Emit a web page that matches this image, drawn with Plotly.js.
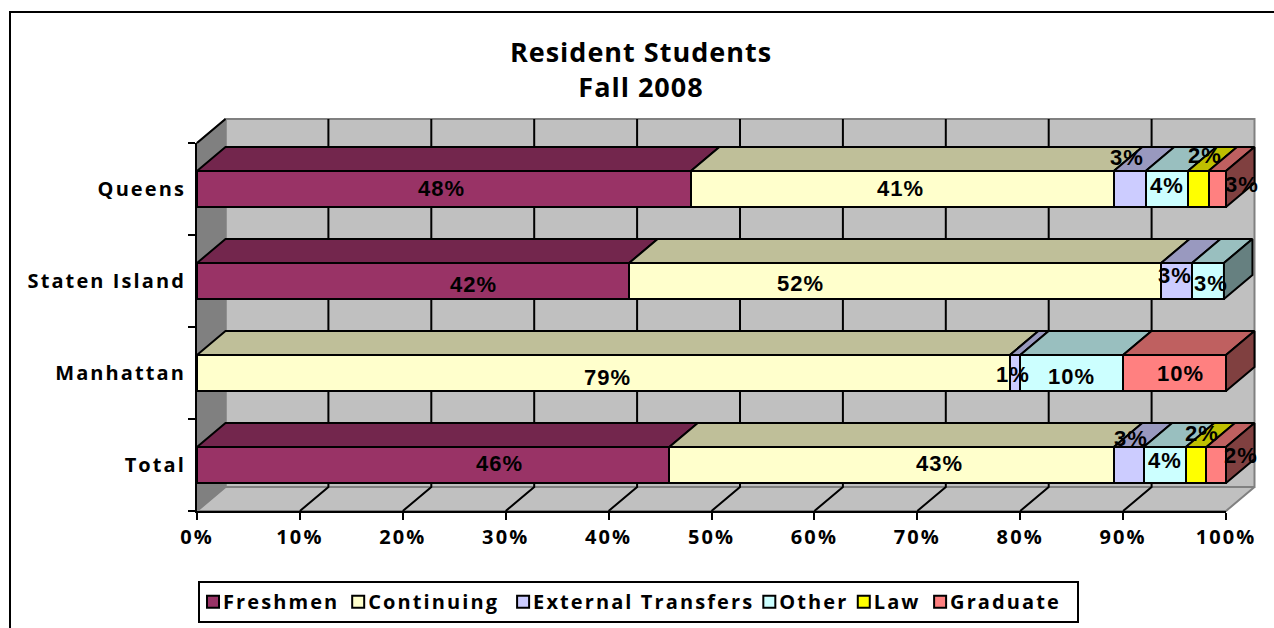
<!DOCTYPE html>
<html><head><meta charset="utf-8">
<script src="https://cdn.plot.ly/plotly-3.0.1.min.js"></script>
<style>
html,body{margin:0;padding:0;background:#fff;overflow:hidden}
.x3tick text,.y2tick text{letter-spacing:2.1px}
.gtitle{letter-spacing:1px}
.annotation-text{letter-spacing:1px}
.legendtext{letter-spacing:0.95px}
.ready .legendtext{letter-spacing:2.1px;font-size:20px !important;transform:translateX(-17px)}
.ready .legendsymbols{transform:translateX(-7px)}
.ready .legend .traces:nth-child(2){translate:-2px 0}
.ready .legend .traces:nth-child(3){translate:4px 0}
.ready .legend .traces:nth-child(4){translate:14px 0}
.ready .legend .traces:nth-child(5){translate:3px 0}
.ready .legend .traces:nth-child(6){translate:-7px 0}
</style></head><body>
<div id="chart" style="width:1274px;height:628px"></div>
<script>
// Data (percent of residents); bottom-to-top category order
const categories = ['Total', 'Manhattan', 'Staten Island', 'Queens'];
const seriesNames = ['Freshmen', 'Continuing', 'External Transfers', 'Other', 'Law', 'Graduate'];
const freshmen   = [45.9, 0, 42, 48];
const continuing = [43.2, 79, 51.7, 41.1];
const external   = [2.9, 1, 3, 3.1];
const other      = [4.1, 10, 3.1, 4.1];
const law        = [2, 0, 0, 2];
const graduate   = [1.9, 10, 0, 1.7];
const freshmenLabels   = ['46%', '', '42%', '48%'];
const continuingLabels = ['43%', '79%', '52%', '41%'];
const externalLabels   = ['3%', '1%', '3%', '3%'];
const otherLabels      = ['4%', '10%', '3%', '4%'];
const lawLabels        = ['2%', '', '', '2%'];
const graduateLabels   = ['2%', '10%', '', '3%'];
const percentTicks = [0,10,20,30,40,50,60,70,80,90,100];
const percentTickText = ['0%','10%','20%','30%','40%','50%','60%','70%','80%','90%','100%'];

// Styles
const frontColors = ['#993366', '#FFFFCC', '#CCCCFF', '#CCFFFF', '#FFFF00', '#FF8080'];
const topColors   = ['#73264D', '#BFBF99', '#9999BF', '#99BFBF', '#BFBF00', '#BF6060'];
const sideColors  = ['#4D1A33', '#808066', '#666680', '#668080', '#808000', '#804040'];
const uiFont = '"Open Sans", "Liberation Sans", sans-serif';
const valueFont = '"Liberation Sans", Arial, sans-serif';
// pixel nudges of the data labels from the segment centre, per series, per category
const labelShiftX = [[66,0,60,-2],[48,4,-95,-2],[2,-2,-2,-3],[0,0,3,0],[6,0,0,7],[25,6,0,25]];
const labelShiftY = [[2,0,-3,0],[2,-4,-2,0],[27,-1,6,31],[5,-3,-2,3],[32,0,0,33],[10,0,0,4]];

const values = [freshmen, continuing, external, other, law, graduate];
const labels = [freshmenLabels, continuingLabels, externalLabels, otherLabels, lawLabels, graduateLabels];

// Canvas geometry (px): front plane spans 197..1226 and 143..511
const W = 1274, H = 628, fx0 = 197, fx1 = 1226, fy0 = 143, fy1 = 511;
const sx = (fx1 - fx0) / 100, sy = 92;
const lo = -0.5, hi = 3.5;
const depthX = 28.5 / sx, depthY = 24 / sy, halfBar = 18 / sy;
// drawing area: a little larger than the 3-D box, so that nothing is clipped
const dx0 = 190, dx1 = 1262, dy0 = 112, dy1 = 516;
const drawRangeX = [(dx0 - fx0) / sx, (dx1 - fx0) / sx];
const drawRangeY = [lo + (fy1 - dy1) / sy, lo + (fy1 - dy0) / sy];
const domX = [dx0 / W, dx1 / W], domY = [1 - dy1 / H, 1 - dy0 / H];

const traces = [];
function poly(xs, ys, fill, line, wall) {
  traces.push({type:'scatter', mode:'lines', x:xs, y:ys, fill: fill ? 'toself' : 'none', fillcolor: fill || undefined,
    line:{color:line, width:2}, hoverinfo:'skip', showlegend:false,
    xaxis: wall ? 'x' : 'x2', yaxis: wall ? 'y' : 'y2'});
}
// walls and floor
poly([depthX,100+depthX,100+depthX,depthX,depthX],[lo+depthY,lo+depthY,hi+depthY,hi+depthY,lo+depthY],'#C0C0C0','#808080',true);
poly([0,depthX,depthX,0,0],[lo,lo+depthY,hi+depthY,hi,lo],'#808080','#808080',true);
poly([0,100,100+depthX,depthX,0],[lo,lo,lo+depthY,lo+depthY,lo],'#C0C0C0','#808080',true);
poly([0,depthX],[hi,hi+depthY],null,'#000000',true);
// gridlines
const gx = [], gy = [];
percentTicks.slice(1, -1).forEach(t => {
  gx.push(t, t+depthX, t+depthX, null);
  gy.push(lo, lo+depthY, hi+depthY, null);
});
poly(gx, gy, null, '#000000', true);

// front faces
seriesNames.forEach((name, s) => {
  traces.push({type:'bar', orientation:'h', name, y:categories.map((c,i)=>i),
    x:values[s].map(v => v > 0 ? v : null), xaxis:'x2', yaxis:'y2',
    marker:{color:frontColors[s], line:{color:'#000', width:2}}, hoverinfo:'skip'});
});
// top and side faces, built from the same values
const annotations = [];
const cum = categories.map(() => 0);
const last = categories.map((c,i) => { let k = 0; values.forEach((v,s)=>{ if (v[i] > 0) k = s; }); return k; });
seriesNames.forEach((name, s) => {
  const tx = [], ty = [], ex = [], ey = [];
  categories.forEach((c, i) => {
    const v = values[s][i], a = cum[i], b = a + v, up = i + halfBar, dn = i - halfBar;
    if (v > 0) {
      tx.push(a, b, b+depthX, a+depthX, a, null);
      ty.push(up, up, up+depthY, up+depthY, up, null);
      if (last[i] === s) {
        ex.push(b, b+depthX, b+depthX, b, b, null);
        ey.push(dn, dn+depthY, up+depthY, up, dn, null);
      }
    }
    if (labels[s][i]) annotations.push({x:(a+b)/2, y:i, xref:'x2', yref:'y2', text:labels[s][i], showarrow:false,
      xshift:labelShiftX[s][i], yshift:labelShiftY[s][i],
      font:{family:valueFont, size:22, color:'#000', weight:700}});
    cum[i] = b;
  });
  poly(tx, ty, topColors[s], '#000000', false);
  if (ex.length) poly(ex, ey, sideColors[s], '#000000', false);
});
// the axis subplot, drawn last: it carries the ticks and the front axis lines
traces.push({type:'scatter', mode:'lines', x:[0], y:[lo], xaxis:'x3', yaxis:'y3', showlegend:false, hoverinfo:'skip', line:{width:0}});

const tickFont = {family:uiFont, size:20, color:'#000', weight:700};
const hidden = {visible:false, fixedrange:true};
const layout = {
  width:W, height:H, autosize:false, paper_bgcolor:'#fff', plot_bgcolor:'rgba(0,0,0,0)',
  margin:{l:0, r:0, t:0, b:0, pad:0},
  barmode:'stack', bargap:0.61, hovermode:false,
  title:{text:'Resident Students<br>Fall 2008', x:641/W, xanchor:'center', y:1-62/H, yanchor:'middle',
    font:{family:uiFont, size:27, color:'#000', weight:700}},
  xaxis:{...hidden, domain:domX, range:drawRangeX, anchor:'y'},
  yaxis:{...hidden, domain:domY, range:drawRangeY, anchor:'x'},
  xaxis2:{...hidden, domain:domX, range:drawRangeX, anchor:'y2'},
  yaxis2:{domain:domY, range:drawRangeY, anchor:'x2', side:'left', tickvals:[0,1,2,3], ticktext:categories, ticks:'', ticklabelstandoff:3,
    showline:false, showgrid:false, zeroline:false, tickfont:tickFont, fixedrange:true},
  xaxis3:{domain:[fx0/W, fx1/W], range:[0,100], anchor:'y3', tickvals:percentTicks, ticktext:percentTickText,
    ticks:'outside', ticklen:7, tickwidth:2, tickcolor:'#000', showline:true, linecolor:'#000', linewidth:2,
    showgrid:false, zeroline:false, tickfont:tickFont, fixedrange:true},
  yaxis3:{domain:[1-fy1/H, 1-fy0/H], range:[lo,hi], anchor:'x3', tickvals:[-0.5,0.5,1.5,2.5,3.5], ticks:'outside', ticklen:7, tickwidth:2, tickcolor:'#000',
    showline:true, linecolor:'#000', linewidth:2, showgrid:false, zeroline:false, showticklabels:false, fixedrange:true},
  legend:{orientation:'h', x:198/W, xanchor:'left', y:1-581/H, yanchor:'top', bordercolor:'#000', borderwidth:2, bgcolor:'#fff',
    font:{family:uiFont, size:19, color:'#000', weight:700}, traceorder:'normal', itemclick:false, itemdoubleclick:false},
  shapes:[{type:'rect', xref:'paper', yref:'paper', layer:'below',
    x0:10/W, x1:1290/W, y0:-20/H, y1:1-12/H, line:{color:'#000', width:2}, fillcolor:'rgba(0,0,0,0)'}],
  annotations
};
Plotly.newPlot('chart', traces, layout, {displayModeBar:false, staticPlot:true}).then(() => {
  document.body.classList.add('ready');
});
</script>
</body></html>
